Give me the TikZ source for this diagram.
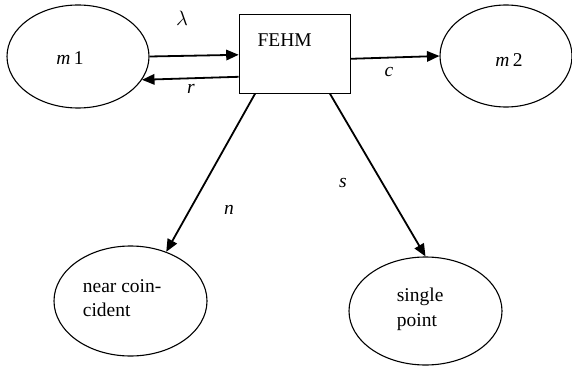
\documentclass[tikz,border=0pt]{standalone}
\usepackage{fontspec}
\setmainfont{Liberation Serif}
\usetikzlibrary{shapes.geometric,arrows.meta}

\begin{document}
\begin{tikzpicture}[x=1pt,y=-1pt,
  every node/.style={font=\fontsize{19.5}{24.5}\selectfont},
  zone/.style={draw,ellipse,line width=1.1pt,inner sep=0pt},
  flow/.style={-{Triangle[length=12.5pt,width=10.5pt]},line width=1.8pt},
  lab/.style={inner sep=0pt,font=\fontsize{19.5}{24.5}\selectfont\itshape}]
\useasboundingbox (0,0) rectangle (572,366);
%states
\node[zone,minimum width=142pt,minimum height=103pt] (m1) at (78,56.5) {};
\node[zone,minimum width=132pt,minimum height=102pt] (m2) at (506,56) {};
\node[zone,minimum width=153pt,minimum height=110pt] (near) at (130.5,301) {};
\node[zone,minimum width=153pt,minimum height=108pt] (single) at (425.5,311) {};
\node[draw,line width=1pt,minimum width=111pt,minimum height=79pt,inner sep=0pt] (fehm) at (294.7,53.8) {};
%Text
\node[inner sep=0pt] (fehmtxt) at (284.7,40) {FEHM};
\node[inner sep=0pt] (m1txt) at (70,58) {\textit{m}\,1};
\node[inner sep=0pt] (m2txt) at (509,60) {\textit{m}\,2};
\node[inner sep=0pt,align=left,anchor=west] (neartxt) at (82.7,298) {near coin-\\cident};
\node[inner sep=0pt,align=left,anchor=west] (singletxt) at (396.7,309.5) {single\\point};
%transitions
\draw[flow] (m1.east) -- ([yshift=-1pt]fehm.west);
\draw[flow] ([yshift=-23pt]fehm.west) -- (m1.-20);
\draw[flow] ([yshift=-5pt]fehm.east) -- (m2.west);
\draw[flow] ([xshift=-39.7pt]fehm.south) -- (near.54);
\draw[flow] ([xshift=35.3pt]fehm.south) -- (single.north);
\node[lab] (lam) at (182,18) {$\lambda$};
\node[lab] (r) at (191,89) {r};
\node[lab] (c) at (389,72) {c};
\node[lab] (n) at (229,210) {n};
\node[lab] (s) at (343,183) {s};
\end{tikzpicture}
\end{document}
